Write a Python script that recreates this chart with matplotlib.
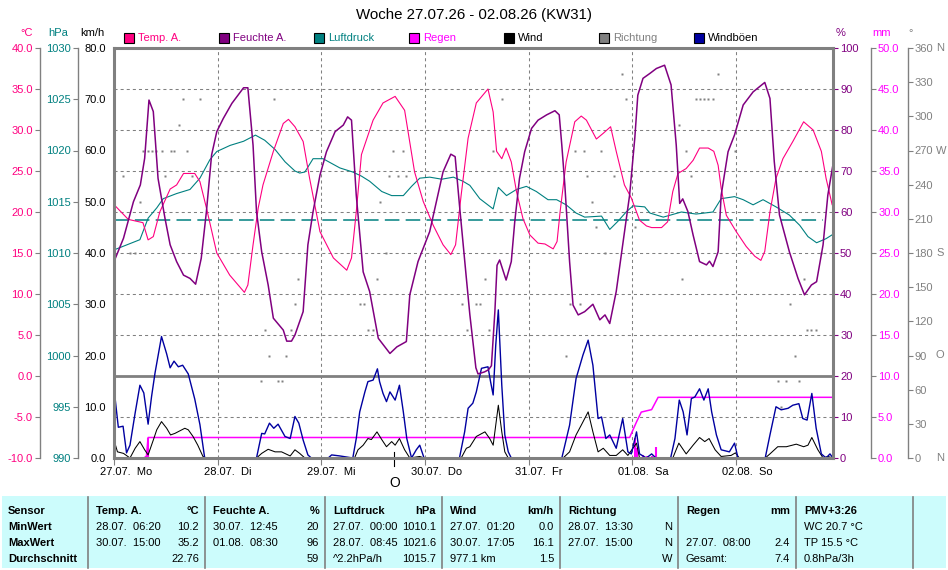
import numpy as np
import matplotlib.pyplot as plt
import matplotlib.transforms as mtransforms
from matplotlib.patches import Rectangle
from matplotlib.lines import Line2D

plt.rcParams['font.family'] = ['Liberation Sans', 'DejaVu Sans']
plt.rcParams['font.size'] = 8
plt.rcParams['lines.scale_dashes'] = False

# ---- data (hours since 27.07. 00:00) ----
x_end = 166.5
day_hours = [0, 24, 48, 72, 96, 120, 144]
day_labels = ['27.07.  Mo', '28.07.  Di', '29.07.  Mi', '30.07.  Do',
              '31.07.  Fr', '01.08.  Sa', '02.08.  So']

temp_h = [0, 3.3, 6.7, 7.9, 9.1, 10.6, 13.0, 14.5, 16.1, 18.7, 19.9, 21.4, 23.8, 26.8,
          30.2, 31.0, 32.2, 33.4, 34.5, 36.9, 39.2, 40.4, 41.9, 43.8, 45.3, 47.7, 50.8,
          53.9, 55.0, 56.1, 57.3, 60.0, 62.3, 65.1, 67.3, 69.6, 71.6, 73.9, 76.2, 78.0,
          79.1, 80.4, 82.0, 83.9, 86.6, 87.8, 88.6, 89.8, 90.8, 92.0, 93.2, 94.7, 96.3,
          98.2, 99.8, 101.7, 102.6, 103.3, 104.7, 106.7, 108.2, 109.4, 111.7, 113.3,
          115.0, 116.3, 118.2, 119.8, 121.7, 123.3, 124.5, 126.8, 128.2, 129.4, 130.6,
          132.5, 134.1, 135.6, 137.6, 138.9, 139.9, 140.6, 141.8, 144.1, 146.4, 148.4,
          149.8, 150.7, 151.9, 153.3, 154.9, 157.2, 159.7, 161.9, 163.8, 164.9, 166.3]
temp_c = [20.9, 19.1, 18.7, 16.6, 17.0, 20.0, 22.8, 23.3, 24.7, 24.7, 23.7, 20.5, 15.0, 12.3,
          10.2, 11.1, 16.0, 20.5, 23.3, 27.4, 30.8, 31.3, 30.4, 28.6, 24.1, 17.6, 14.4,
          12.9, 14.4, 20.0, 27.0, 31.2, 33.3, 34.1, 32.4, 24.9, 21.3, 18.4, 16.0, 14.8,
          16.0, 22.1, 29.0, 33.3, 35.0, 32.2, 27.4, 26.5, 27.8, 26.1, 22.5, 19.2, 17.2,
          16.2, 16.1, 15.5, 16.4, 20.0, 26.1, 31.0, 31.7, 31.2, 28.9, 29.6,
          30.4, 27.4, 23.3, 21.7, 19.0, 18.3, 18.1, 18.1, 18.8, 22.5, 24.7,
          25.3, 26.3, 27.8, 27.8, 27.4, 25.7, 22.9, 19.6, 17.6, 15.8, 14.6,
          14.1, 15.2, 20.0, 24.1, 26.5, 28.6, 31.0, 30.0, 27.4, 24.1, 20.9]

hum_h = [0, 2.2, 4.5, 6.1, 7.1, 8.1, 9.1, 10.2, 11.8, 13.0, 14.5, 16.1, 17.6, 18.9, 20.2,
         21.4, 22.6, 23.8, 25.3, 27.3, 30.0, 31.0, 32.2, 33.0, 34.2, 35.7, 36.9, 39.2,
         40.0, 41.1, 41.9, 43.8, 44.9, 46.1, 47.7, 49.2, 51.2, 53.1, 54.1, 55.0, 56.1,
         57.7, 59.2, 61.2, 63.9, 65.5, 67.7, 68.5, 70.4, 73.1, 76.2, 78.0, 79.0, 80.0,
         81.6, 82.4, 83.8, 84.3, 85.8, 86.7, 87.4, 88.2, 88.7, 89.3, 90.8, 92.0, 92.8,
         93.9, 95.1, 96.7, 98.2, 100.2, 102.1, 103.1, 103.7, 104.4, 105.5, 106.3, 107.5,
         109.0, 110.9, 112.5, 113.7, 114.8, 116.3, 117.8, 119.4, 120.6, 121.3, 122.5,
         124.1, 125.6, 127.5, 129.0, 130.2, 131.0, 131.7, 132.9, 134.1, 135.6, 137.2,
         137.9, 138.7, 139.9, 140.6, 142.2, 143.7, 145.7, 148.0, 150.7, 151.9, 152.9,
         154.1, 156.4, 158.4, 159.9, 161.5, 162.7, 164.2, 165.3, 166.4]
hum_pct = [47.9, 53.6, 62.5, 66.6, 73.1, 87.3, 84.5, 68.2, 58.5, 52.0, 47.9, 44.6, 43.8, 42.4, 48.7,
           60.1, 73.9, 79.6, 82.8, 86.5, 90.3, 90.3, 76.3, 60.1, 50.3, 42.2, 34.1, 31.2,
           28.5, 28.5, 30.0, 35.7, 52.0, 60.1, 69.0, 74.7, 79.6, 81.2, 83.2, 82.4, 64.1,
           45.4, 40.6, 29.2, 25.5, 27.1, 28.4, 39.8, 47.9, 55.2, 69.8, 74.1, 73.5, 61.7,
           43.8, 35.0, 22.0, 20.5, 21.0, 21.5, 22.5, 35.7, 47.0, 48.3, 43.4, 47.9, 57.6,
           68.2, 74.7, 80.4, 82.4, 83.7, 84.7, 83.7, 76.3, 66.6, 47.9, 37.3, 34.9,
           35.7, 37.5, 33.7, 34.9, 32.8, 40.6, 52.0, 64.1, 78.0, 88.5, 92.6,
           93.8, 95.0, 95.8, 91.0, 76.3, 62.1, 63.2, 60.1, 54.4, 47.9, 47.1,
           48.0, 46.7, 50.3, 64.1, 74.7, 78.8, 86.1, 89.3, 91.6, 87.7, 72.3,
           59.3, 50.3, 43.8, 39.8, 42.2, 43.0, 52.0, 64.1, 71.0]

press_h = [0, 3.0, 6.0, 7.9, 9.9, 11.4, 14.5, 17.6, 19.9, 22.2, 23.8, 26.9, 30.0, 32.75,
           34.9, 37.3, 39.6, 41.9, 43.0, 44.2, 46.1, 48.4, 52.3, 55.3, 57.3, 59.2, 62.0,
           64.3, 67.0, 68.9, 70.8, 73.1, 75.9, 78.6, 80.8, 82.4, 84.7, 87.8, 89.0, 90.9,
           93.2, 95.5, 97.8, 100.5, 102.5, 104.7, 107.0, 109.0, 112.9, 114.8, 116.7,
           118.6, 120.2, 122.9, 124.1, 127.2, 131.4, 134.8, 138.7, 140.6, 143.7, 145.7,
           148.0, 150.3, 153.3, 156.4, 158.8, 160.7, 162.7, 164.9, 166.4]
press_hpa = [1010.3, 1010.8, 1011.3, 1013.4, 1014.4, 1015.3, 1015.8, 1016.2, 1017.3, 1019.1,
             1019.9, 1020.5, 1020.9, 1021.5, 1021.0, 1020.1, 1018.9, 1018.0, 1017.8, 1017.9,
             1019.2, 1019.2, 1018.3, 1017.9, 1017.5, 1017.0, 1016.0, 1015.6, 1015.6, 1016.5,
             1017.3, 1017.4, 1017.2, 1017.4, 1017.0, 1016.6, 1015.3, 1014.3, 1016.4, 1015.6,
             1016.2, 1016.5, 1016.0, 1015.2, 1015.2, 1014.7, 1013.9, 1013.5, 1013.6, 1012.3,
             1013.1, 1014.0, 1014.6, 1014.5, 1013.9, 1013.5, 1014.0, 1013.8, 1014.0, 1015.3,
             1015.5, 1015.2, 1014.7, 1015.2, 1014.5, 1013.7, 1012.7, 1011.6, 1011.0, 1011.4,
             1011.8]
press_ref = 1013.25
press_ref_end = 164.1

gust_h = [0, 1.0, 2.1, 2.9, 3.7, 4.9, 6.0, 6.9, 7.9, 8.7, 9.5, 11.0, 12.2, 13.0, 13.9, 14.9,
          15.9, 17.2, 18.7, 19.9, 21.0, 33.0, 34.2, 34.9, 36.0, 37.0, 38.0, 39.6, 40.8,
          41.9, 42.8, 43.8, 44.9, 45.7, 49.6, 50.4, 52.3, 55.3, 56.1, 56.9, 58.1, 58.8,
          60.0, 60.6, 61.0, 61.5, 62.3, 63.1, 63.9, 65.1, 66.1, 67.0, 67.8, 68.9, 70.0,
          70.8, 71.8, 80.0, 81.2, 82.0, 83.1, 83.9, 85.1, 86.6, 87.2, 87.8, 88.4, 89.0,
          89.8, 90.5, 91.3, 92.0, 103.7, 105.5, 107.0, 108.6, 109.8, 110.9, 112.1, 112.9,
          113.9, 114.8, 116.3, 117.8, 119.0, 119.8, 121.0, 121.7, 123.3, 124.5, 125.5,
          128.9, 129.9, 130.9, 131.8, 132.7, 133.7, 134.5, 135.6, 136.6, 137.6, 138.4,
          139.5, 140.6, 142.5, 143.7, 144.5, 150.8, 151.9, 153.3, 154.5, 156.1, 157.2,
          158.6, 159.5, 160.5, 161.6, 162.6, 163.8, 164.9, 165.8, 166.5]
gust_kmh = [13.6, 6.0, 6.2, 1.0, 2.5, 8.8, 14.2, 12.7, 6.6, 12.0, 16.6, 23.7, 20.3, 17.6, 18.9, 17.8,
            18.1, 16.4, 11.5, 6.5, 0.0, 0.0, 4.8, 4.7, 6.8, 5.8, 6.6, 4.2, 3.8,
            8.1, 6.8, 3.5, 0.6, 0.0, 0.0, 0.6, 0.4, 0.0, 3.8, 9.0, 12.9, 14.9,
            15.2, 16.5, 17.4, 14.9, 12.6, 11.0, 12.9, 11.3, 14.2, 9.0, 3.8, 0.0, 1.6,
            2.5, 0.0, 0.0, 5.1, 9.7, 10.7, 12.9, 17.5, 17.8, 14.9, 12.3, 22.0, 28.9,
            14.2, 4.5, 1.2, 0.0, 0.0, 6.4, 15.5, 20.1, 23.0, 18.1, 7.7, 8.0,
            3.8, 4.5, 1.9, 7.7, 1.2, 0.8, 5.1, 0.8, 0.0, 0.8, 0.0,
            0.0, 3.8, 11.3, 9.0, 4.5, 11.6, 11.9, 13.5, 11.3, 13.5, 9.0,
            4.5, 1.6, 1.2, 2.9, 0.0, 0.0, 4.5, 10.0, 9.4, 9.7, 10.3,
            10.6, 7.7, 7.4, 12.6, 5.8, 0.8, 0.0, 0.8, 0.0]

wind_h = [0, 0.8, 2.2, 3.7, 4.9, 6.0, 7.1, 7.9, 9.1, 9.9, 11.0, 12.2, 13.1, 14.1, 16.4, 17.2,
          18.3, 19.4, 20.6, 21.4, 33.0, 34.2, 35.7, 37.3, 38.8, 40.8, 41.9, 43.0, 44.2,
          55.7, 56.5, 57.7, 58.8, 59.6, 60.9, 62.0, 63.1, 64.3, 65.1, 66.1, 67.3, 68.5,
          70.8, 71.8, 80.4, 81.6, 82.4, 83.9, 85.9, 87.0, 87.8, 89.0, 89.8, 90.5, 91.3,
          104.0, 105.5, 107.0, 108.2, 109.8, 110.9, 112.1, 113.3, 114.8, 116.3, 117.8,
          119.0, 121.0, 121.7, 129.4, 130.8, 132.5, 134.1, 135.6, 136.8, 137.8, 139.2,
          140.6, 142.9, 143.9, 144.8, 150.8, 151.9, 153.7, 155.7, 158.0, 159.7, 160.7,
          161.6, 163.0, 164.2, 165.3, 166.5]
wind_kmh = [3.5, 1.2, 0.9, 0.0, 1.9, 3.2, 1.6, 0.6, 3.5, 5.5, 7.1, 5.8, 4.5, 4.8, 5.8, 5.5,
            4.2, 2.5, 0.3, 0.0, 0.0, 0.9, 1.7, 1.2, 1.2, 0.4, 1.6, 0.9, 0.0,
            0.0, 1.6, 2.5, 3.8, 3.6, 5.1, 3.6, 2.2, 3.2, 2.5, 3.8, 1.6, 0.0,
            0.3, 0.0, 0.0, 1.9, 2.2, 4.2, 5.1, 3.8, 2.5, 10.3, 5.1, 1.2, 0.0,
            0.0, 1.2, 4.5, 6.4, 9.0, 5.1, 1.2, 1.9, 0.5, 0.5, 1.6,
            0.5, 2.9, 0.0, 0.0, 2.9, 0.8, 2.5, 4.0, 3.2, 3.8, 1.6,
            0.3, 0.5, 1.0, 0.0, 0.0, 0.8, 2.2, 2.2, 2.7, 2.2, 2.5,
            4.0, 1.6, 0.0, 0.3, 0.0]

rain_sum_h = [0, 6.9, 7.5, 7.9, 119.4, 121.0, 122.1, 124.5, 126.0, 166.5]
rain_sum_mm = [0.0, 0.0, 0.2, 2.5, 2.5, 4.4, 5.6, 5.9, 7.4, 7.4]
rain_bar_h = [7.3, 7.8, 87.6, 120.7, 121.2, 122.5, 123.5, 124.6, 125.6]
rain_bar_mm = [0.2, 2.4, 0.1, 2.4, 1.2, 0.4, 0.3, 0.3, 1.3]

dir_h = [2.0, 3.7, 4.9, 6.0, 6.7, 7.9, 8.9, 9.8, 11.0, 11.8, 13.3, 13.9, 15.1, 15.9, 16.8,
         18.0, 19.9, 34.0, 34.9, 35.9, 37.0, 37.9, 38.8, 39.8, 40.9, 41.8, 42.7, 56.9,
         57.8, 58.8, 59.9, 60.9, 61.7, 62.9, 63.7, 64.7, 65.8, 66.9, 67.7, 80.7, 81.7,
         83.8, 84.7, 85.9, 86.8, 87.7, 89.8, 104.7, 105.7, 106.7, 107.8, 108.8, 109.5,
         110.8, 111.7, 112.7, 113.7, 115.8, 117.7, 118.6, 120.7, 130.8, 131.6, 132.5,
         133.7, 134.7, 135.6, 136.6, 137.6, 138.6, 139.9, 143.7, 153.7, 154.5, 155.7,
         156.6, 157.6, 158.6, 159.7, 160.5, 161.5, 162.5, 163.8]
dir_deg = [247.5, 180, 180, 225, 270, 270, 270, 270, 270, 247.5, 270, 270, 292.5, 315, 270,
           247.5, 315, 67.5, 112.5, 90, 315, 67.5, 67.5, 90, 112.5, 135, 157.5, 135,
           135, 112.5, 112.5, 157.5, 225, 180, 247.5, 270, 247.5, 270, 247.5, 135, 112.5,
           135, 135, 157.5, 112.5, 270, 315, 90, 135, 270, 135, 270, 247.5,
           225, 202.5, 270, 180, 247.5, 337.5, 315, 202.5, 292.5, 157.5, 270,
           247.5, 315, 315, 315, 315, 315, 337.5, 270, 67.5, 45, 67.5,
           135, 90, 67.5, 157.5, 112.5, 112.5, 112.5, 180]

moon_h = 64.9

# ---- colours ----
c_temp = '#FF0080'
c_hum = '#800080'
c_press = '#008080'
c_rain = '#FF00FF'
c_wind = '#000000'
c_dir = '#808080'
c_gust = '#0000A0'
c_gray = '#808080'

W, H = 948, 570
L, R, T, B = 114, 833, 48, 458
fig = plt.figure(figsize=(W / 100, H / 100), dpi=100)
rect = [L / W, 1 - B / H, (R - L) / W, (B - T) / H]


def ax_x(px):
    return (px - L) / (R - L)


# base axes: grid only
ax = fig.add_axes(rect)
ax.set_xlim(0, x_end)
ax.set_ylim(-10, 40)
ax.set_yticks(np.arange(-10, 41, 5))
ax.set_xticks(day_hours)
ax.tick_params(axis='y', length=0, labelleft=False)
ax.tick_params(axis='x', length=5, width=0.8, color=c_gray, labelbottom=False)
for s in ax.spines.values():
    s.set_visible(False)
ax.grid(True, color=c_gray, linestyle=(0, (2.2, 2.2)), lw=0.75)
ax.axhline(0, color=c_gray, lw=2.0)


def side_axis(side, px, lo, hi, ticks, labels, label_color, tick_color,
              spine=True, length=3.6, pad=1.5):
    a = ax.twinx()
    a.set_ylim(lo, hi)
    for s in a.spines.values():
        s.set_visible(False)
    sp = a.spines[side]
    sp.set_visible(spine)
    sp.set_position(('axes', ax_x(px)))
    sp.set_color(c_gray)
    sp.set_linewidth(1.0)
    if side == 'left':
        a.yaxis.tick_left()
    else:
        a.yaxis.tick_right()
    a.set_yticks(ticks)
    a.set_yticklabels(labels)
    a.tick_params(axis='y', length=length, width=0.8, color=tick_color,
                  labelcolor=label_color, pad=pad)
    return a


deg_ticks = np.arange(0, 361, 30)
ax_d = side_axis('right', 908, 0, 360, deg_ticks, [str(v) for v in deg_ticks],
                 c_dir, c_gray, pad=1.0)
p_ticks = np.arange(990, 1031, 5)
ax_p = side_axis('left', 78, 990, 1030, p_ticks, [str(v) for v in p_ticks],
                 c_press, c_gray)
r_ticks = np.arange(0, 51, 5)
ax_r = side_axis('right', 871, 0, 50, r_ticks, [f'{v:.1f}' for v in r_ticks],
                 c_rain, c_gray)
w_ticks = np.arange(0, 81, 10)
ax_w = side_axis('left', L, 0, 80, w_ticks, [f'{v:.1f}' for v in w_ticks],
                 'black', c_gray, spine=False, length=0, pad=6)
t_ticks = np.arange(-10, 41, 5)
ax_c = side_axis('left', 40, -10, 40, t_ticks, [f'{v:.1f}' for v in t_ticks],
                 c_temp, c_gray)
h_ticks = np.arange(0, 101, 10)
ax_h = side_axis('right', R, 0, 100, h_ticks, [str(v) for v in h_ticks],
                 c_hum, c_hum, spine=False)

# series
ax_d.plot(dir_h, dir_deg, 's', ms=1.5, color=c_dir, mec='none')
ax_p.plot(press_h, press_hpa, color=c_press, lw=0.8)
ax_p.plot([0, press_ref_end], [press_ref, press_ref], color=c_press, lw=1.1,
          dashes=(10.5, 4.5))
ax_r.vlines(rain_bar_h, 0, rain_bar_mm, color=c_rain, lw=1.5)
ax_r.plot(rain_sum_h, rain_sum_mm, color=c_rain, lw=1.1)
ax_w.plot(wind_h, wind_kmh, color=c_wind, lw=0.75)
ax_w.plot(gust_h, gust_kmh, color=c_gust, lw=1.0)
ax_c.plot(temp_h, temp_c, color=c_temp, lw=0.8)
ax_h.plot(hum_h, hum_pct, color=c_hum, lw=1.1)

# direction letters
dir_letters = {360: 'N', 270: 'W', 180: 'S', 90: 'O', 0: 'N'}
for deg, letter in dir_letters.items():
    ax_d.text(ax_x(936), deg, letter, color=c_dir, va='center', ha='left',
              transform=ax_d.get_yaxis_transform())

# frame on top
ax_f = fig.add_axes(rect)
ax_f.patch.set_visible(False)
ax_f.set_xticks([])
ax_f.set_yticks([])
for s in ax_f.spines.values():
    s.set_color(c_gray)
    s.set_linewidth(2.2)

# day labels
lab_tr = mtransforms.offset_copy(ax.get_xaxis_transform(), fig=fig, x=-14, y=0, units='dots')
for h, lab in zip(day_hours, day_labels):
    ax.text(h, -0.034, lab, transform=lab_tr, ha='left', va='center')

# moon marker
ax.plot([moon_h, moon_h], [0.015, -0.02], transform=ax.get_xaxis_transform(),
        color='black', lw=0.8, clip_on=False)
ax.text(moon_h, -0.062, 'O', transform=ax.get_xaxis_transform(), ha='center',
        va='center', fontsize=10)

# title and unit labels
fig.text(474 / W, 1 - 15 / H, 'Woche 27.07.26 - 02.08.26 (KW31)', ha='center',
         va='center', fontsize=10.8)
units = [(20, '°C', c_temp), (48, 'hPa', c_press), (80, 'km/h', 'black'),
         (836, '%', c_hum), (872, 'mm', c_rain), (908, '°', c_dir)]
for px, txt, col in units:
    fig.text(px / W, 1 - 33 / H, txt, color=col, ha='left', va='center')

# legend row
legend_names = ['Temp. A.', 'Feuchte A.', 'Luftdruck', 'Regen', 'Wind', 'Richtung', 'Windböen']
legend_colors = [c_temp, c_hum, c_press, c_rain, c_wind, c_dir, c_gust]
legend_text_colors = [c_temp, c_hum, c_press, c_rain, 'black', c_dir, 'black']
for i, (name, col, tcol) in enumerate(zip(legend_names, legend_colors, legend_text_colors)):
    x0 = 124 + 95 * i
    fig.patches.append(Rectangle((x0 / W, 1 - 43 / H), 10 / W, 10 / H,
                                 transform=fig.transFigure, fc=col, ec='black', lw=0.8))
    fig.text((x0 + 14) / W, 1 - 38 / H, name, color=tcol, ha='left', va='center')

# summary table
fig.patches.append(Rectangle((2 / W, 1 - 568 / H), 944 / W, 72 / H,
                             transform=fig.transFigure, fc='#CCFCFC', ec='none'))
col_sep = [88, 205, 325, 442, 560, 678, 796, 913]
for px in col_sep:
    fig.lines.append(Line2D([px / W, px / W], [1 - 497 / H, 1 - 568 / H],
                            transform=fig.transFigure, color=c_gray, lw=1.2))
row_y = [511, 527, 543, 559]
row_labels = ['Sensor', 'MinWert', 'MaxWert', 'Durchschnitt']
col_heads = ['Temp. A.', 'Feuchte A.', 'Luftdruck', 'Wind', 'Richtung', 'Regen', 'PMV+3:26']
col_units = ['°C', '%', 'hPa', 'km/h', '', 'mm', '']
col_left = [['28.07.  06:20', '30.07.  15:00', ''],
            ['30.07.  12:45', '01.08.  08:30', ''],
            ['27.07.  00:00', '28.07.  08:45', '^2.2hPa/h'],
            ['27.07.  01:20', '30.07.  17:05', '977.1 km'],
            ['28.07.  13:30', '27.07.  15:00', ''],
            ['', '27.07.  08:00', 'Gesamt:'],
            ['WC 20.7 °C', 'TP 15.5 °C', '0.8hPa/3h']]
col_right = [['10.2', '35.2', '22.76'],
             ['20', '96', '59'],
             ['1010.1', '1021.6', '1015.7'],
             ['0.0', '16.1', '1.5'],
             ['N', 'N', 'W'],
             ['', '2.4', '7.4'],
             ['', '', '']]
for y, lab in zip(row_y, row_labels):
    fig.text(8 / W, 1 - y / H, lab, fontweight='bold', ha='left', va='center')
for j in range(len(col_heads)):
    xl = (col_sep[j] + 8) / W
    xr = (col_sep[j + 1] - 6) / W
    fig.text(xl, 1 - row_y[0] / H, col_heads[j], fontweight='bold', ha='left', va='center')
    fig.text(xr, 1 - row_y[0] / H, col_units[j], fontweight='bold', ha='right', va='center')
    for k in range(3):
        fig.text(xl, 1 - row_y[k + 1] / H, col_left[j][k], ha='left', va='center')
        fig.text(xr, 1 - row_y[k + 1] / H, col_right[j][k], ha='right', va='center')

fig.savefig('out.png', dpi=100)
